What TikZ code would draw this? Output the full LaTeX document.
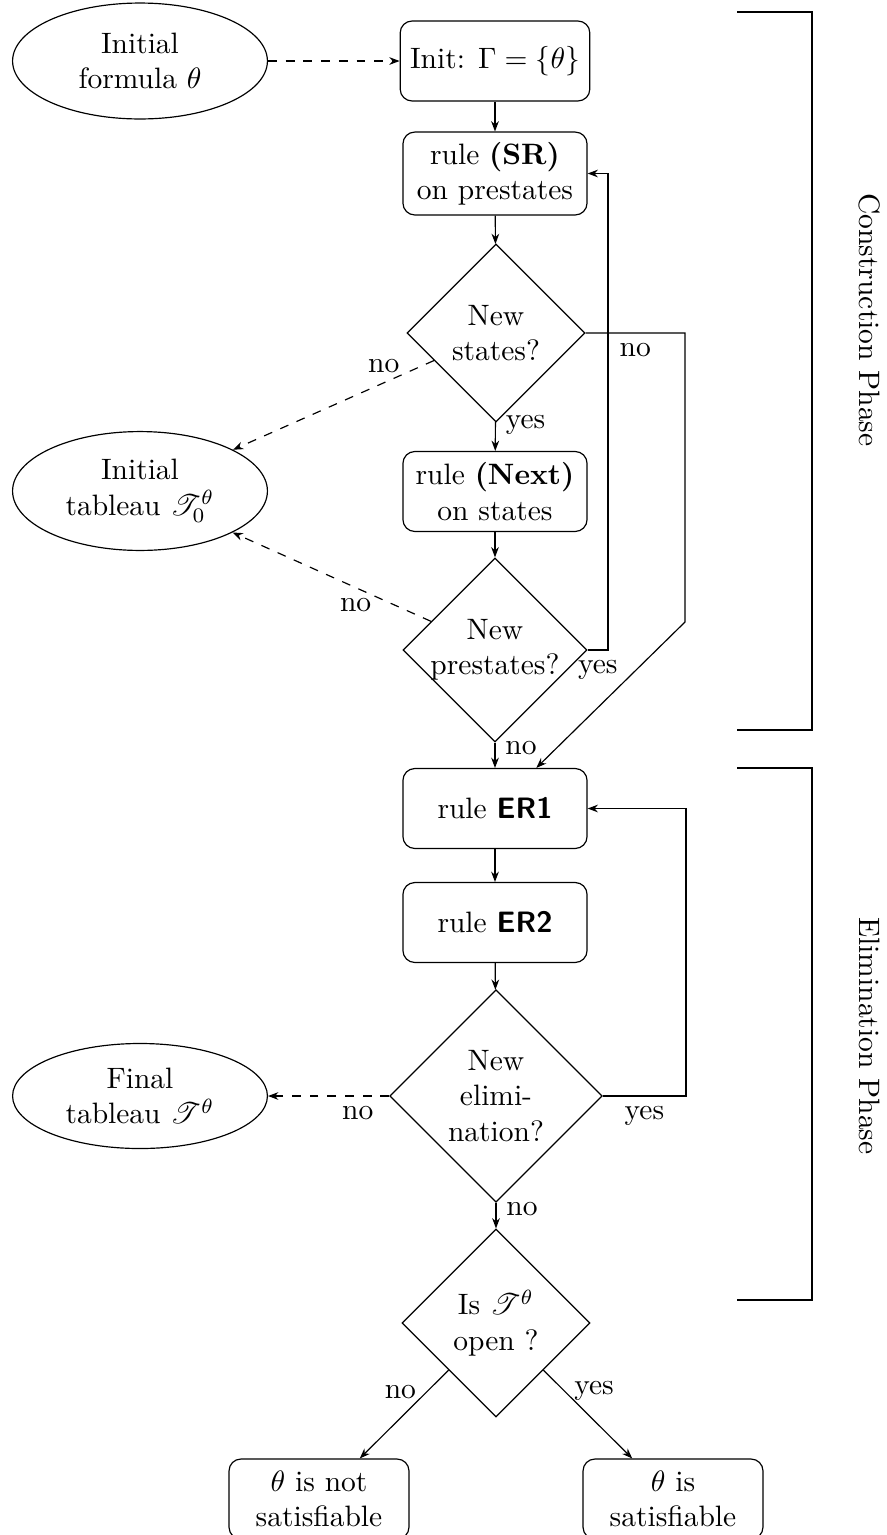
\documentclass[tikz,border=0pt]{standalone}
\usepackage{amsmath}
\usepackage{mathrsfs}
\usetikzlibrary{arrows.meta,shapes.geometric}

\begin{document}
\begin{tikzpicture}[
  x=0.339pt, y=-0.339pt,
  >={Stealth[length=3.5pt,width=2.6pt]},
  rulebox/.style={
    draw,
    rounded corners=4pt,
    align=center,
    minimum width=62.4pt,
    minimum height=27.1pt
  },
  query/.style={
    draw,
    diamond,
    aspect=1,
    align=center,
    inner sep=-1.5pt
  },
  outcome/.style={
    draw,
    ellipse,
    align=center,
    inner sep=0pt,
    minimum width=86.4pt
  },
  flow/.style={->},
  back/.style={->,dashed},
  phase/.style={line width=1pt},
  phaselabel/.style={rotate=-90}
]
  \useasboundingbox (0,0) rectangle (887,1535);

  % construction phase
  \node[outcome,minimum height=39.3pt] (Formula) at (140,61) {Initial\\formula $\theta$};
  \node[rulebox] (Init) at (495,61) {Init: $\Gamma = \{\theta\}$};
  \node[rulebox] (SR) at (495,173.5) {rule \textbf{(SR)}\\on prestates};
  \node[query,minimum size=60.3pt] (NewStates) at (496,333) {New\\states?};
  \node[rulebox] (Next) at (495,491.5) {rule \textbf{(Next)}\\on states};
  \node[outcome,minimum height=40.3pt] (Tab0) at (140,491) {Initial\\tableau $\mathscr{T}_0^\theta$};
  \node[query,minimum size=62.4pt] (NewPre) at (495,650) {New\\prestates?};

  % elimination phase
  \node[rulebox] (ER1) at (495,808.5) {rule \textsf{\textbf{ER1}}};
  \node[rulebox] (ER2) at (495,922.5) {rule \textsf{\textbf{ER2}}};
  \node[query,minimum size=72pt] (NewElim) at (496,1096) {New\\elimi-\\nation?};
  \node[outcome,minimum height=35.6pt] (Final) at (140,1096) {Final\\tableau $\mathscr{T}^\theta$};
  \node[query,minimum size=63.7pt] (Open) at (496,1323) {Is $\mathscr{T}^\theta$\\open ?};
  \node[rulebox,minimum width=61pt] (Unsat) at (319,1499) {$\theta$ is not\\satisfiable};
  \node[rulebox,minimum width=61pt] (Sat) at (673,1499) {$\theta$ is\\satisfiable};

  \coordinate (LoopSR) at (608,0);
  \coordinate (LoopER) at (686,0);
  \coordinate (SkipA) at (685,333);
  \coordinate (SkipB) at (685,622);

  \draw[back] (Formula) -- (Init);
  \draw[flow] (Init) -- (SR);
  \draw[flow] (SR) -- (NewStates);
  \draw[flow] (NewStates) -- node[pos=0.1,right] {yes} (Next);
  \draw[back] (NewStates) -- node[pos=0.25,above] {no} (Tab0);
  \draw[flow] (NewStates.east) -- node[below] {no} (SkipA) -- (SkipB) -- (ER1);
  \draw[flow] (Next) -- (NewPre);
  \draw[back] (NewPre) -- node[pos=0.38,below] {no} (Tab0);
  \draw[flow] (NewPre.east) -- node[below] {yes} (NewPre.east -| LoopSR) |- (SR.east);
  \draw[flow] (NewPre) -- node[pos=0.2,right] {no} (ER1);
  \draw[flow] (ER1) -- (ER2);
  \draw[flow] (ER2) -- (NewElim);
  \draw[flow] (NewElim.east) -- node[below] {yes} (NewElim.east -| LoopER) |- (ER1.east);
  \draw[back] (NewElim) -- node[pos=0.26,below] {no} (Final);
  \draw[flow] (NewElim) -- node[pos=0.25,right] {no} (Open);
  \draw[flow] (Open) -- node[pos=0.25,left] {no} (Unsat);
  \draw[flow] (Open) -- node[pos=0.23,right] {yes} (Sat);

  % phase brackets
  \draw[phase] (737,12) -- (812,12) -- (812,730) -- (737,730);
  \node[phaselabel] (ConsLabel) at (870,320) {Construction Phase};
  \draw[phase] (737,768) -- (812,768) -- (812,1300) -- (737,1300);
  \node[phaselabel] (ElimLabel) at (870,1036) {Elimination Phase};
\end{tikzpicture}
\end{document}
